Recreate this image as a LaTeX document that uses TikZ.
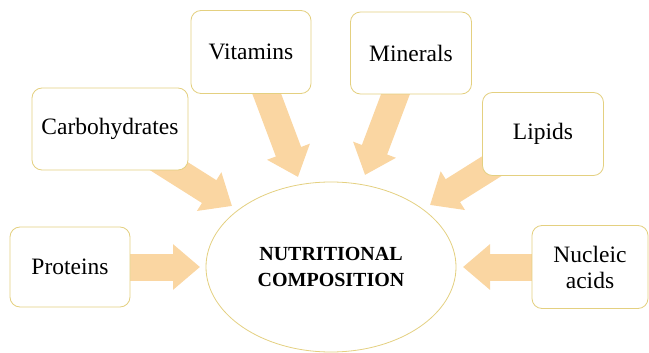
\documentclass[tikz,border=0pt]{standalone}
\usepackage{fontspec}
\setmainfont{Liberation Serif}
\usetikzlibrary{shapes.geometric,arrows.meta,backgrounds}
\definecolor{boxline}{RGB}{228,208,128}
\definecolor{arrowfill}{RGB}{250,214,162}
\begin{document}
\begin{tikzpicture}[x=1pt,y=-1pt,
  itembox/.style={draw=boxline, line width=0.8pt, fill=white, rounded corners=10pt,
    align=center, font=\fontsize{23.5}{26}\selectfont, inner sep=0pt},
  centre/.style={draw=boxline, line width=0.8pt, fill=white, ellipse,
    minimum width=250pt, minimum height=170pt, align=center, inner sep=0pt,
    font=\fontsize{20}{26}\selectfont\bfseries},
  fatarrow/.style={draw=arrowfill, line width=27pt,
    -{Triangle[length=27pt, width=44pt]}}]
\useasboundingbox (0,0) rectangle (649,353);
\node[centre] (nc) at (331,267) {NUTRITIONAL\\COMPOSITION};
\node[itembox, minimum width=120pt, minimum height=80pt] (prot) at (70,267) {Proteins};
\node[itembox, minimum width=156pt, minimum height=82pt] (carb) at (110,129) {Carbohydrates};
\node[itembox, minimum width=120pt, minimum height=83pt] (vit) at (251,52) {Vitamins};
\node[itembox, minimum width=121pt, minimum height=82pt] (min) at (411,53) {Minerals};
\node[itembox, minimum width=121pt, minimum height=83pt] (lip) at (543,134) {Lipids};
\node[itembox, minimum width=116pt, minimum height=83pt] (nuc) at (590,267) {Nucleic\\acids};
\coordinate (tprot) at (200,267);
\coordinate (tcarb) at (232,206);
\coordinate (tvit) at (298,177);
\coordinate (tmin) at (365,175);
\coordinate (tlip) at (430,205);
\coordinate (tnuc) at (463,267);
\begin{scope}[on background layer]
\draw[fatarrow] (prot.center) -- (tprot);
\draw[fatarrow] (carb.center) -- (tcarb);
\draw[fatarrow] (vit.center) -- (tvit);
\draw[fatarrow] (min.center) -- (tmin);
\draw[fatarrow] (lip.center) -- (tlip);
\draw[fatarrow] (nuc.center) -- (tnuc);
\end{scope}
\end{tikzpicture}
\end{document}
